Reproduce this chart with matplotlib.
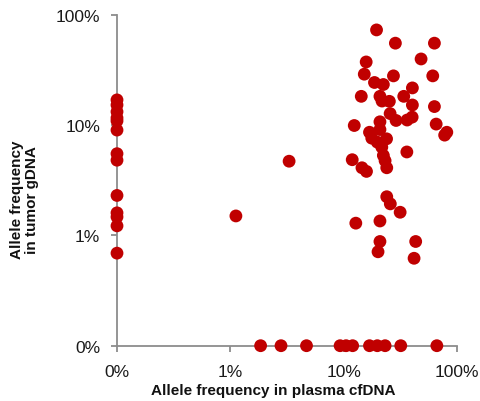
import numpy as np
import matplotlib
matplotlib.use("Agg")
import matplotlib.pyplot as plt

# Allele frequencies in percent (0 = not detected, drawn on the "0%" line)
plasma_cfdna = [
    # detected in tumor only (plasma 0%)
    0, 0, 0, 0, 0, 0, 0, 0, 0, 0, 0, 0, 0,
    # isolated points
    1.12, 3.3,
    # main cluster
    19.5, 28.6, 63.2, 15.8, 48.2, 15.2, 61.1, 27.5, 18.7, 22.4,
    40.4, 14.3, 20.9, 21.8, 25.3, 33.9, 40.4, 63.2, 25.7, 29.0,
    36.3, 40.2, 20.9, 65.5, 12.4, 20.9, 16.9, 17.7, 23.9, 19.8,
    21.7, 81.3, 77.8, 36.1, 22.4, 11.9, 23.2, 14.5, 15.9, 24.0,
    24.0, 25.8, 31.5, 12.8, 20.9, 20.9, 20.1, 43.2, 41.8,
    # detected in plasma only (tumor 0%)
    1.85, 2.8, 4.7, 9.3, 10.5, 12.0, 16.9, 19.8, 23.2, 31.9, 66.4,
]
tumor_gdna = [
    16.9, 15.2, 13.2, 11.6, 10.9, 9.0, 5.5, 4.8, 2.3, 1.6, 1.47, 1.22, 0.69,
    1.5, 4.7,
    72.8, 55.2, 55.2, 37.3, 39.7, 28.9, 27.9, 27.9, 24.3, 23.3,
    21.7, 18.2, 18.2, 16.5, 16.4, 18.2, 15.2, 14.7, 12.7, 11.0,
    11.1, 11.8, 10.7, 10.2, 9.9, 9.1, 8.6, 7.6, 7.5, 7.0,
    6.3, 8.6, 8.1, 5.7, 5.3, 4.85, 4.75, 4.1, 3.8, 4.1,
    2.24, 1.93, 1.62, 1.29, 1.35, 0.88, 0.71, 0.88, 0.62,
    0, 0, 0, 0, 0, 0, 0, 0, 0, 0, 0,
]
tick_values = [0.1, 1, 10, 100]
tick_labels = ["0%", "1%", "10%", "100%"]
zero_position = 0.1  # where "0%" is drawn on the log axes

x = np.array(plasma_cfdna, dtype=float)
y = np.array(tumor_gdna, dtype=float)
x = np.where(x <= 0, zero_position, x)
y = np.where(y <= 0, zero_position, y)

plt.rcParams['font.family'] = ['Liberation Sans', 'DejaVu Sans']

fig = plt.figure(figsize=(4.81, 4.02), dpi=100)
ax = fig.add_axes([117 / 481, 1 - 346.7 / 402, 340 / 481, 331 / 402])

ax.scatter(x, y, s=85, color="#C00000", edgecolors="none", zorder=5, clip_on=False)

ax.set_xscale("log")
ax.set_yscale("log")
ax.set_xlim(0.1, 100)
ax.set_ylim(0.1, 100)
ax.set_xticks(tick_values)
ax.set_xticklabels(tick_labels)
ax.set_yticks(tick_values)
ax.set_yticklabels(tick_labels)
ax.minorticks_off()

for side in ("top", "right"):
    ax.spines[side].set_visible(False)
for side in ("left", "bottom"):
    ax.spines[side].set_color("#8c8c8c")
    ax.spines[side].set_linewidth(1.3)

ax.tick_params(axis="both", which="major", length=4, width=1.3, color="#8c8c8c",
               labelsize=12.5, labelcolor="#1a1a1a")
ax.tick_params(axis="x", pad=9.5)
ax.tick_params(axis="y", pad=8)

fig.text(273 / 481, 1 - 391 / 402, "Allele frequency in plasma cfDNA",
         ha="center", va="center", fontsize=11, fontweight="bold", color="#111111")
fig.text(24.5 / 481, 1 - 200 / 402, "Allele frequency\nin tumor gDNA",
         ha="center", va="center", rotation=90, fontsize=11, fontweight="bold",
         color="#111111", linespacing=1.05)

fig.savefig("out.png", dpi=100)
